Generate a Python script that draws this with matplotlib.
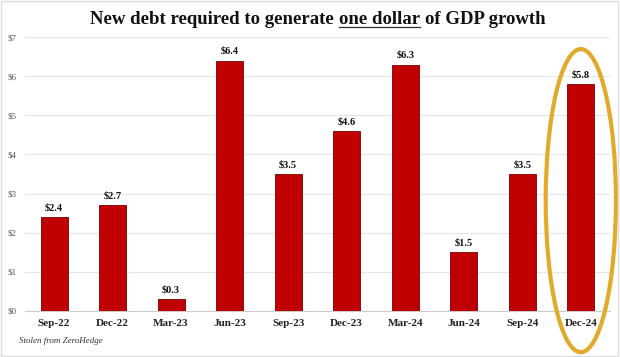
import matplotlib
matplotlib.use("Agg")
import matplotlib.pyplot as plt
from matplotlib.patches import Ellipse, Rectangle

categories = ["Sep-22", "Dec-22", "Mar-23", "Jun-23", "Sep-23", "Dec-23", "Mar-24", "Jun-24", "Sep-24", "Dec-24"]
values = [2.4, 2.7, 0.3, 6.4, 3.5, 4.6, 6.3, 1.5, 3.5, 5.8]
labels = ["$2.4", "$2.7", "$0.3", "$6.4", "$3.5", "$4.6", "$6.3", "$1.5", "$3.5", "$5.8"]
yticks = [0, 1, 2, 3, 4, 5, 6, 7]
title_parts = ["New debt required to generate", "one dollar", "of GDP growth"]

plt.rcParams['font.family'] = ['Liberation Serif', 'DejaVu Serif']

W, H = 620, 357
fig = plt.figure(figsize=(6.2, 3.57), dpi=100)
ax = fig.add_axes([0.040, 0.129, 0.944, 0.767])

x = list(range(len(categories)))
ax.bar(x, values, width=0.46, color="#C00000", edgecolor="#7a0000", linewidth=0.6, zorder=3)
for xi, v, lab in zip(x, values, labels):
    ax.text(xi, v + 0.12, lab, ha="center", va="bottom", fontsize=7.5, fontweight="bold", color="#111111")

ax.set_xlim(-0.5, len(categories) - 0.5)
ax.set_ylim(0, 7)
ax.set_yticks(yticks)
ax.set_yticklabels([f"${t}" for t in yticks], fontsize=6.5, color="#555555")
ax.set_xticks(x)
ax.set_xticklabels(categories, fontsize=8, fontweight="bold", color="#222222")
ax.tick_params(axis="both", length=0)
ax.tick_params(axis="x", pad=6)
ax.tick_params(axis="y", pad=6)
ax.grid(axis="y", color="#e6e6e6", linewidth=0.8, zorder=0)
for s in ["top", "right", "left"]:
    ax.spines[s].set_visible(False)
ax.spines["bottom"].set_color("#cccccc")
ax.spines["bottom"].set_linewidth(0.8)

# highlight ellipse around last bar
ell = Ellipse((9.0, 2.82), width=1.2, height=7.75, fill=False, edgecolor="#E2AA2B",
              linewidth=3, clip_on=False, zorder=5)
ax.add_patch(ell)

# title in pieces so "one dollar" can be underlined
fs = 13.5
kw = dict(va="baseline", fontsize=fs, fontweight="bold", color="#111111")
r = fig.canvas.get_renderer()
base_y = 1 - 24 / H
objs = [fig.text(0, base_y, p, ha="left", **kw) for p in title_parts]
tmp1 = fig.text(0, 0, "a b", **kw)
tmp2 = fig.text(0, 0, "ab", **kw)
space = tmp1.get_window_extent(r).width - tmp2.get_window_extent(r).width
tmp1.remove(); tmp2.remove()
widths = [o.get_window_extent(r).width for o in objs]
total = sum(widths) + space * (len(widths) - 1)
cur = (W - total) / 2 + 8
ext = []
for o, w in zip(objs, widths):
    o.set_x(cur / W)
    ext.append((cur, cur + w))
    cur += w + space
ux0, ux1 = ext[1]
fig.add_artist(plt.Line2D([ux0 / W, ux1 / W], [1 - 26.5 / H, 1 - 26.5 / H], color="#333333", linewidth=0.9))

fig.text(0.03, 0.045, "Stolen from ZeroHedge", fontsize=6.5, style="italic", color="#333333", ha="left", va="center")

fig.add_artist(Rectangle((0.002, 0.003), 0.995, 0.994, transform=fig.transFigure, fill=False,
                         edgecolor="#dddddd", linewidth=1))

fig.savefig("out.png", dpi=100)
